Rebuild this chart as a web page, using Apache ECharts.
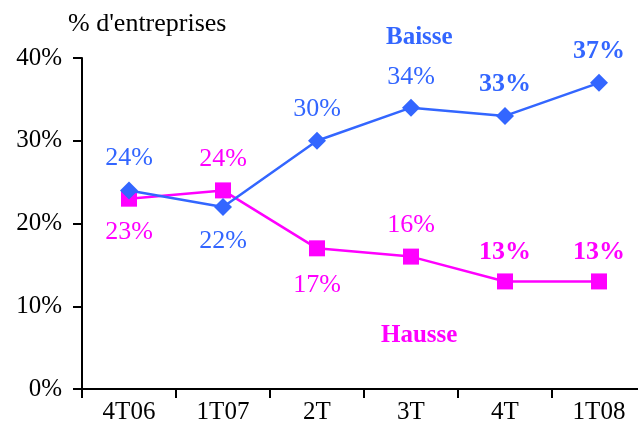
<!DOCTYPE html>
<html><head><meta charset="utf-8">
<script src="https://cdn.jsdelivr.net/npm/echarts@6/dist/echarts.min.js"></script>
<style>html,body{margin:0;padding:0;background:#fff;overflow:hidden}#c{width:648px;height:437px}</style>
</head><body><div id="c"></div>
<script>
const categories = ['4T06','1T07','2T','3T','4T','1T08'];
const baisse = [24,22,30,34,33,37];
const hausse = [23,24,17,16,13,13];
const yTicks = [0,10,20,30,40];
// label styling (not data)
const baissePos = ['top','bottom','top','top','top','top'];
const baisseBold = [false,false,false,false,true,true];
const haussePos = ['bottom','top','bottom','top','top','top'];
const hausseBold = [false,false,false,false,true,true];

const BLUE = '#3366FF', MAG = '#FF00FF';
const font = '"Liberation Serif", "Times New Roman", serif';

function mk(vals, pos, bold, color, dist) {
  return vals.map((v,i)=>({
    value: v,
    label: {show:true, position: pos[i], distance: dist[i], color: color,
      fontFamily: font, fontSize: 26, fontWeight: bold[i]?'bold':'normal',
      formatter: '{c}%'}
  }));
}
const chart = echarts.init(document.getElementById('c'), null, {renderer:'canvas'});
chart.setOption({
  animation:false,
  grid:{left:82, top:58, width:564, bottom:48, containLabel:false},
  xAxis:{type:'category', data:categories, boundaryGap:true,
    axisLine:{lineStyle:{color:'#000', width:2}},
    axisTick:{show:true, length:9, lineStyle:{color:'#000', width:2}},
    axisLabel:{color:'#000', fontFamily:font, fontSize:25, margin:11}},
  yAxis:{type:'value', min:yTicks[0], max:yTicks[yTicks.length-1], interval:10,
    axisLine:{show:true, lineStyle:{color:'#000', width:2}},
    axisTick:{show:true, length:9, lineStyle:{color:'#000', width:2}},
    splitLine:{show:false},
    axisLabel:{color:'#000', fontFamily:font, fontSize:25, margin:20, formatter:'{value}%'}},
  graphic:[
    {type:'text', left:68, top:11, style:{text:"% d'entreprises", fill:'#000', font:'26px '+font}},
    {type:'text', left:386, top:25, style:{text:'Baisse', fill:BLUE, font:'bold 25px '+font}},
    {type:'text', left:381, top:323, style:{text:'Hausse', fill:MAG, font:'bold 25px '+font}}
  ],
  series:[
    {type:'line', name:'Baisse', data: mk(baisse, baissePos, baisseBold, BLUE, [10,12,10,8,10,10]),
      symbol:'diamond', symbolSize:18, lineStyle:{color:BLUE, width:2.5}, itemStyle:{color:BLUE}, z:3},
    {type:'line', name:'Hausse', data: mk(hausse, haussePos, hausseBold, MAG, [12,10,16,10,8,8]),
      symbol:'rect', symbolSize:16, lineStyle:{color:MAG, width:2.5}, itemStyle:{color:MAG}, z:2}
  ]
});
</script></body></html>
